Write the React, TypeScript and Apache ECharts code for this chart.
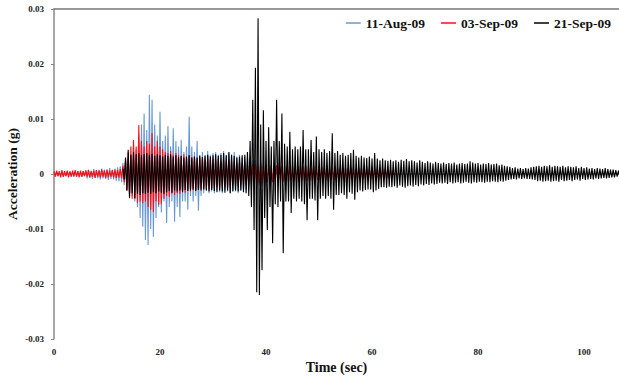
import React, { useEffect, useRef } from "react";
import * as echarts from "echarts";

// Envelope readings (units of 0.001 g), one up/down pair every 0.5 s
const STEP = 0.5;

// 11-Aug-09 (blue), from t = 0 s
const BLUE_START = 0;
const BLUE_UP = [
  0.3, 0.4, 0.3, 0.4, 0.3, 0.5, 0.4, 0.3, 0.4, 0.5, 0.4, 0.5,
  0.7, 0.8, 0.6, 0.9, 0.7, 0.8, 1.0, 0.8, 0.9, 1.1, 0.8, 1.0, 1.2, 1.4,
  2.0, 2.5, 3.0, 3.5, 5.0, 4.5, 7.0, 9.0, 11.0, 8.0,
  14.4, 13.5, 9.0, 7.0, 11.3, 6.0, 7.0, 8.7, 5.0, 8.3,
  6.0, 5.0, 6.2, 4.0, 5.0, 10.4, 5.0, 4.0, 6.0, 3.5,
  4.0, 3.5, 4.2, 3.5, 3.8, 4.0, 3.5, 3.8, 4.2, 3.5,
  3.8, 3.5, 4.0, 3.2, 3.5, 3.0, 3.2, 2.8, 3.0, 2.5,
  2.5, 2.0, 2.5, 2.0, 1.5,
];
const BLUE_DN = [
  -0.3, -0.4, -0.3, -0.5, -0.4, -0.3, -0.4, -0.5, -0.4, -0.3, -0.5, -0.4,
  -0.8, -0.7, -0.9, -0.7, -0.8, -1.0, -0.8, -0.9, -1.1, -0.9, -1.0, -1.2, -1.3, -1.5,
  -2.0, -3.0, -3.5, -4.0, -5.0, -6.0, -8.0, -9.6, -12.0, -12.9,
  -10.0, -11.4, -8.0, -6.0, -7.0, -5.0, -8.9, -6.0, -5.0, -8.7,
  -6.0, -7.8, -5.0, -5.0, -6.5, -4.0, -5.0, -4.0, -6.7, -4.0,
  -3.5, -3.0, -3.5, -3.2, -3.5, -3.0, -3.3, -3.5, -3.0, -3.2,
  -3.5, -3.0, -3.2, -3.5, -3.0, -2.8, -3.0, -2.5, -2.8, -2.5,
  -2.5, -2.0, -2.2, -2.0, -1.5,
];

// 03-Sep-09 (red), from t = 0 s
const RED_START = 0;
const RED_UP = [
  0.5, 0.6, 0.5, 0.7, 0.5, 0.6, 0.5, 0.6, 0.7, 0.5, 0.6, 0.5,
  0.6, 0.7, 0.5, 0.6, 0.7, 0.6, 0.8, 0.6, 0.7, 0.6, 0.7, 0.8, 0.7, 0.9,
  1.5, 2.5, 4.0, 5.0, 6.2, 5.0, 8.9, 6.0, 5.0, 6.0,
  5.5, 7.4, 5.0, 6.0, 5.0, 4.5, 4.0, 3.8, 4.2, 3.5,
  3.8, 3.5, 3.2, 3.6, 3.0, 3.4, 3.0, 3.2, 2.8, 3.0,
  3.0, 2.8, 3.2, 2.6, 2.8, 2.5, 2.7, 2.4, 2.6, 2.3,
  2.5, 2.2, 2.4, 2.0, 2.2, 2.0, 2.1, 1.8, 2.0, 1.8,
  1.8, 1.6, 1.8, 1.5, 1.7, 1.5, 1.6, 1.5, 1.6, 1.5,
  1.5, 1.4, 1.6, 1.4, 1.5, 1.3, 1.5, 1.4, 1.3, 1.5,
  1.4, 1.3, 1.5, 1.2, 1.4, 1.3, 1.2, 1.4, 1.3, 1.2,
  1.3, 1.2, 1.1, 1.3, 1.2, 1.1, 1.2, 1.0, 1.1, 1.2,
  1.1, 1.0, 1.2, 1.0, 1.1, 1.0, 1.3, 1.0, 0.9, 1.0,
  0.9, 0.8, 0.6,
];
const RED_DN = [
  -0.5, -0.4, -0.6, -0.5, -0.4, -0.6, -0.5, -0.4, -0.5, -0.6, -0.5, -0.4,
  -0.5, -0.6, -0.5, -0.7, -0.5, -0.6, -0.5, -0.7, -0.6, -0.5, -0.6, -0.7, -0.6, -0.8,
  -1.5, -3.0, -4.0, -4.5, -4.5, -5.3, -5.0, -5.3, -5.0, -6.0,
  -6.5, -6.9, -5.0, -5.6, -5.5, -4.5, -4.0, -4.2, -3.6, -3.8,
  -3.5, -3.6, -3.2, -3.4, -3.0, -3.2, -2.9, -3.0, -2.8, -2.7,
  -2.8, -2.6, -2.8, -2.5, -2.6, -2.4, -2.5, -2.3, -2.4, -2.2,
  -2.3, -2.1, -2.2, -2.0, -2.1, -1.9, -2.0, -1.8, -1.9, -1.7,
  -1.7, -1.6, -1.7, -1.5, -1.6, -1.4, -1.5, -1.4, -1.5, -1.4,
  -1.4, -1.3, -1.5, -1.3, -1.4, -1.2, -1.4, -1.3, -1.2, -1.3,
  -1.3, -1.2, -1.4, -1.1, -1.3, -1.2, -1.1, -1.3, -1.2, -1.1,
  -1.2, -1.1, -1.0, -1.2, -1.1, -1.0, -1.1, -0.9, -1.0, -1.1,
  -1.0, -0.9, -1.1, -0.9, -1.0, -0.9, -1.2, -0.9, -0.8, -0.9,
  -0.8, -0.7, -0.5,
];

// 21-Sep-09 (black), from t = 13 s
const BLACK_START = 13;
const BLACK_UP = [
  1.0, 3.0, 4.4, 3.5, 4.0, 3.6, 3.8, 3.4, 3.6, 3.8,
  3.5, 3.7, 3.3, 3.6, 3.4, 3.2, 3.5, 3.3, 3.6, 3.2,
  3.4, 3.1, 3.3, 3.0, 3.2, 3.4, 3.0, 3.2, 3.0, 3.3,
  3.1, 3.3, 3.5, 3.2, 3.4, 3.6, 3.3, 3.5, 3.8, 3.4,
  4.0, 3.5, 3.3, 3.0, 3.2, 3.4, 3.5, 4.0, 6.0, 13.5,
  19.3, 28.3, 9.0, 11.6, 6.0, 8.5, 5.0, 6.0, 13.5, 6.0,
  11.0, 5.5, 5.0, 7.7, 4.5, 5.0, 4.5, 5.0, 8.0, 4.5,
  4.5, 6.2, 4.0, 6.8, 4.5, 4.0, 4.5, 3.8, 4.2, 7.4,
  3.8, 4.2, 3.5, 3.8, 3.3, 3.5, 3.8, 4.4, 3.3, 3.0,
  3.3, 3.0, 2.9, 3.2, 2.8, 3.8, 2.8, 2.5, 2.8, 2.5,
  2.4, 2.6, 2.3, 2.5, 2.2, 2.6, 2.4, 2.7, 2.3, 2.5,
  2.3, 2.1, 2.5, 2.2, 2.0, 2.3, 2.1, 1.9, 2.2, 2.0,
  1.9, 2.1, 1.8, 2.0, 1.9, 2.1, 1.7, 1.9, 2.0, 1.8,
  1.9, 2.3, 2.1, 1.9, 2.0, 1.7, 1.9, 1.8, 2.0, 1.7,
  1.8, 1.9, 1.6, 1.7, 1.5, 1.4, 1.3, 1.1, 1.2, 1.0,
  1.1, 0.9, 1.1, 1.0, 1.2, 1.3, 1.4, 1.5, 1.3, 1.5,
  1.4, 1.6, 1.3, 1.5, 1.4, 1.3, 1.5, 1.2, 1.4, 1.3,
  1.2, 1.4, 1.1, 1.3, 1.1, 1.2, 1.0, 1.1, 0.9, 1.1,
  1.0, 0.9, 1.1, 0.9, 0.8, 0.8, 0.7, 0.6,
];
const BLACK_DN = [
  -1.0, -3.0, -4.4, -3.5, -4.4, -3.6, -3.8, -3.5, -3.6, -3.4,
  -3.6, -3.3, -3.5, -3.2, -3.4, -3.6, -3.3, -3.1, -3.4, -3.0,
  -3.2, -3.0, -3.3, -2.9, -3.1, -3.0, -2.8, -3.1, -2.9, -3.0,
  -2.8, -3.0, -3.2, -2.9, -3.1, -3.3, -3.0, -3.2, -3.4, -3.0,
  -3.5, -3.2, -3.0, -3.2, -3.0, -3.3, -3.5, -4.0, -6.0, -10.2,
  -21.5, -22.0, -17.5, -8.0, -10.2, -6.0, -12.6, -5.5, -6.0, -5.0,
  -14.4, -5.0, -5.0, -7.1, -4.5, -5.0, -4.5, -5.0, -5.5, -8.4,
  -4.5, -4.5, -4.8, -8.4, -4.5, -4.0, -4.5, -4.0, -4.5, -6.5,
  -3.8, -3.8, -3.5, -3.8, -4.5, -3.3, -3.6, -4.7, -3.3, -3.0,
  -3.2, -2.9, -2.8, -2.8, -3.3, -3.0, -2.7, -2.4, -2.4, -2.5,
  -2.3, -2.4, -2.2, -2.5, -2.1, -2.3, -2.5, -2.2, -2.1, -2.3,
  -2.0, -2.2, -1.9, -2.1, -1.8, -2.0, -1.7, -1.9, -1.8, -1.6,
  -1.7, -1.6, -1.8, -1.5, -1.7, -1.6, -1.5, -1.7, -1.6, -1.4,
  -1.6, -1.7, -1.5, -1.6, -1.4, -1.5, -1.6, -1.4, -1.5, -1.3,
  -1.4, -1.5, -1.3, -1.4, -1.2, -1.1, -1.0, -0.9, -1.0, -0.8,
  -0.9, -0.8, -0.9, -0.9, -1.0, -1.1, -1.3, -1.2, -1.4, -1.3,
  -1.2, -1.4, -1.3, -1.2, -1.4, -1.1, -1.3, -1.2, -1.1, -1.3,
  -1.1, -1.0, -1.2, -0.9, -1.1, -1.0, -0.9, -1.0, -0.8, -0.9,
  -0.8, -0.7, -0.8, -0.7, -0.6, -0.6, -0.5, -0.5,
];

const SERIES_NAMES = ["11-Aug-09", "03-Sep-09", "21-Sep-09"];
const SERIES_COLORS = ["#6a98d2", "#ff1010", "#000000"];
const Y_TICKS = [-0.03, -0.02, -0.01, 0, 0.01, 0.02, 0.03];
const X_TICKS = [0, 20, 40, 60, 80, 100];
const X_MAX = 106.6;

function trace(start: number, up: number[], dn: number[]) {
  const out: [number, number][] = [];
  for (let i = 0; i < up.length; i++) {
    const t = start + i * STEP;
    out.push([t, up[i] * 0.001]);
    out.push([t + STEP / 2, dn[i] * 0.001]);
  }
  return out;
}

const FONT = "'Liberation Serif', 'Times New Roman', serif";

export default function App() {
  const ref = useRef<HTMLDivElement>(null);
  useEffect(() => {
    document.body.style.margin = "0";
    if (!ref.current) return;
    const chart = echarts.init(ref.current, null, { renderer: "svg" });
    const data = [
      trace(BLUE_START, BLUE_UP, BLUE_DN),
      trace(RED_START, RED_UP, RED_DN),
      trace(BLACK_START, BLACK_UP, BLACK_DN),
    ];
    chart.setOption({
      animation: false,
      backgroundColor: "#ffffff",
      grid: { left: 54, top: 9, width: 565, height: 330, outerBoundsMode: "none" },
      legend: {
        data: SERIES_NAMES,
        right: 3,
        top: 11,
        icon: "rect",
        itemWidth: 15,
        itemHeight: 1.5,
        itemGap: 16,
        textStyle: { fontFamily: FONT, fontWeight: "bold", fontSize: 13.5, color: "#111" },
      },
      xAxis: [
        {
          type: "value",
          min: 0,
          max: X_MAX,
          interval: 20,
          name: "Time (sec)",
          nameLocation: "middle",
          nameGap: 21,
          nameMoveOverlap: false,
          nameTextStyle: { fontFamily: FONT, fontWeight: "bold", fontSize: 14, color: "#111" },
          axisLine: { show: true, lineStyle: { color: "#888", width: 1.5 } },
          axisTick: { show: true, inside: true, length: 2, lineStyle: { color: "#888" } },
          splitLine: { show: false },
          axisLabel: {
            fontFamily: FONT,
            fontWeight: "bold",
            fontSize: 9,
            color: "#222",
            margin: 8,
            formatter: (v: number) => (X_TICKS.includes(Math.round(v * 1000) / 1000) ? String(Math.round(v)) : ""),
          },
        },
        {
          type: "value",
          position: "top",
          min: 0,
          max: X_MAX,
          axisLine: { show: true, onZero: false, lineStyle: { color: "#777", width: 1.5 } },
          axisTick: { show: false },
          axisLabel: { show: false },
          splitLine: { show: false },
        },
      ],
      yAxis: {
        type: "value",
        min: -0.03,
        max: 0.03,
        interval: 0.01,
        name: "Acceleration (g)",
        nameLocation: "middle",
        nameGap: 35,
        nameMoveOverlap: false,
        nameTextStyle: { fontFamily: FONT, fontWeight: "bold", fontSize: 13.5, color: "#111" },
        axisLine: { show: true, lineStyle: { color: "#888", width: 1.5 } },
        axisTick: { show: true, length: 3, lineStyle: { color: "#888" } },
        splitLine: { show: false },
        axisLabel: {
          fontFamily: FONT,
          fontWeight: "bold",
          fontSize: 9,
          color: "#222",
          margin: 10,
          formatter: (v: number) => {
            const r = Math.round(v * 100) / 100;
            const hit = Y_TICKS.find((t) => Math.abs(t - r) < 1e-9);
            if (hit === undefined) return "";
            return hit === 0 ? "0" : hit.toFixed(2);
          },
        },
      },
      series: data.map((d, i) => ({
        name: SERIES_NAMES[i],
        type: "line",
        data: d,
        xAxisIndex: 0,
        showSymbol: false,
        symbol: "none",
        silent: true,
        color: SERIES_COLORS[i],
        lineStyle: { color: SERIES_COLORS[i], width: 1.1 },
      })),
    });
    return () => chart.dispose();
  }, []);
  return (
    <div
      ref={ref}
      style={{ position: "fixed", left: 0, top: 0, width: 619, height: 379 }}
    />
  );
}
